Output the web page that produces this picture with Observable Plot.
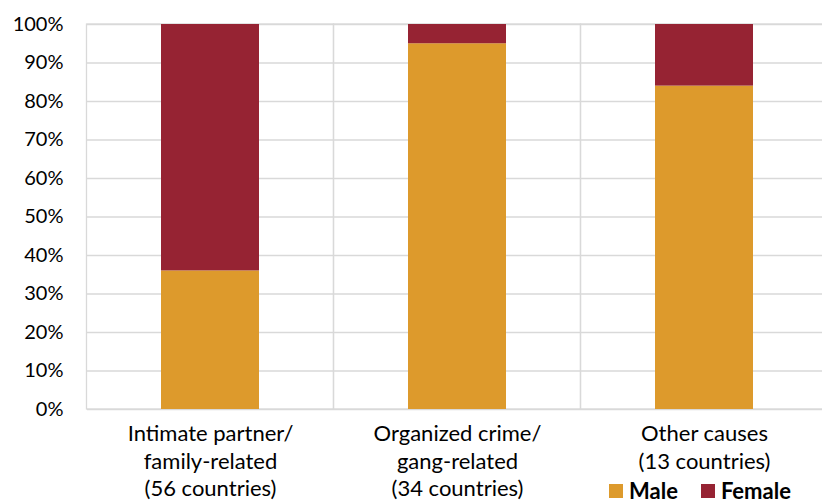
<!DOCTYPE html>
<html>
<head>
<meta charset="utf-8">
<script src="https://cdn.jsdelivr.net/npm/d3@7"></script>
<script src="https://cdn.jsdelivr.net/npm/@observablehq/plot@0.6"></script>
<style>
  html, body { margin: 0; padding: 0; background: #fff; overflow: hidden; }
  #wrap { position: relative; width: 822px; height: 503px; }
  #legend { position: absolute; left: 609px; top: 480px; font-family: Lato, sans-serif; font-weight: bold; font-size: 22px; line-height: 22px; color: #000; display: flex; align-items: center; white-space: nowrap; }
  #legend .sw { display: inline-block; width: 14px; height: 14px; margin-right: 6px; }
  #legend .item { display: inline-flex; align-items: center; margin-right: 23px; }
</style>
</head>
<body>
<div id="wrap"></div>
<script>
const categories = [
  "Intimate partner/\nfamily-related\n(56 countries)",
  "Organized crime/\ngang-related\n(34 countries)",
  "Other causes\n(13 countries)"
];
const male = [36, 95, 84];
const female = [64, 5, 16];
const sexes = ["Male", "Female"];
const sexColors = ["#dd9a2c", "#962333"];
const yTicks = [0, 10, 20, 30, 40, 50, 60, 70, 80, 90, 100];

const rows = [];
categories.forEach((c, i) => {
  rows.push({cat: c, sex: "Male", value: male[i]});
  rows.push({cat: c, sex: "Female", value: female[i]});
});

const chart = Plot.plot({
  width: 822,
  height: 503,
  marginLeft: 87,
  marginRight: -6,
  marginTop: 24,
  marginBottom: 94,
  style: {fontFamily: "Lato, sans-serif", fontSize: "20px", color: "#000", background: "#fff"},
  x: {domain: categories, paddingInner: 0.603, paddingOuter: 0.3015, label: null},
  y: {domain: [0, 100], label: null},
  color: {domain: sexes, range: sexColors},
  marks: [
    Plot.gridY(yTicks, {stroke: "#d9d9d9", strokeOpacity: 1, strokeWidth: 1.3}),
    Plot.barY(categories, {x: d => d, y1: 0, y2: 100, fill: "none", stroke: "#d9d9d9", strokeWidth: 1.3, insetLeft: -74.5, insetRight: -74.5}),
    Plot.barY(rows, {x: "cat", y: "value", fill: "sex", order: sexes}),
    Plot.axisY(yTicks, {tickSize: 0, tickPadding: 24, tickFormat: d => d + "%", fontSize: 20}),
    Plot.axisX({tickSize: 0, tickPadding: 12, lineHeight: 1.25, fontSize: 22})
  ]
});
document.getElementById("wrap").appendChild(chart);

const legend = document.createElement("div");
legend.id = "legend";
sexes.forEach((s, i) => {
  const item = document.createElement("span");
  item.className = "item";
  const sw = document.createElement("span");
  sw.className = "sw";
  sw.style.background = sexColors[i];
  item.appendChild(sw);
  item.appendChild(document.createTextNode(s));
  legend.appendChild(item);
});
document.getElementById("wrap").appendChild(legend);
</script>
</body>
</html>
